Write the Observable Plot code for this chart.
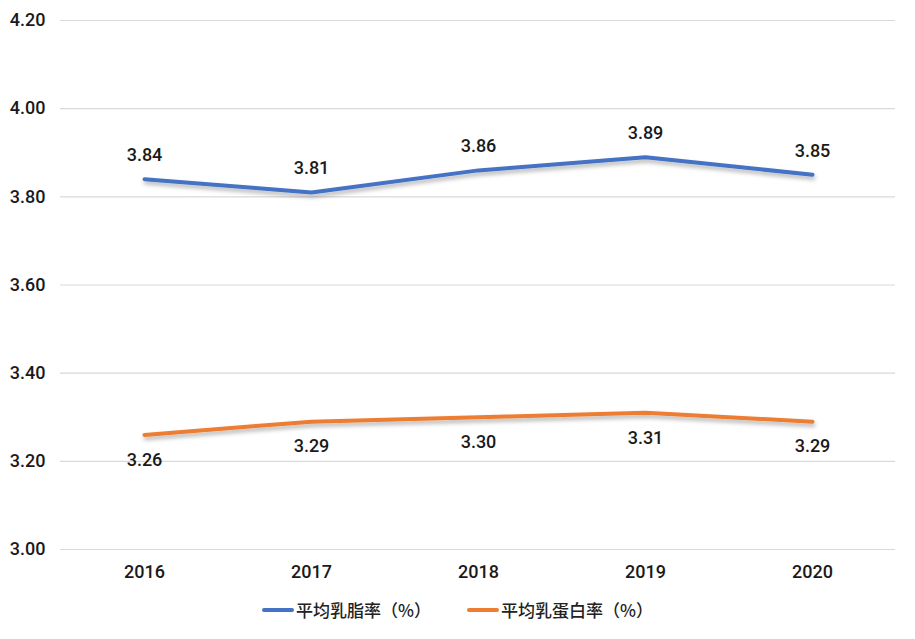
<!DOCTYPE html>
<html><head><meta charset="utf-8">
<script src="https://cdn.jsdelivr.net/npm/d3@7"></script>
<script src="https://cdn.jsdelivr.net/npm/@observablehq/plot@0.6"></script>
<style>
body{margin:0;background:#fff;font-family:Roboto,"Liberation Sans",Arial,sans-serif;}
#legend{height:49px;display:flex;justify-content:center;align-items:flex-start;font-family:"Noto Sans CJK SC",sans-serif;font-size:17px;color:#222;font-weight:500;}
.item{display:flex;align-items:center;margin-top:7px;}
.sw{width:32px;height:4px;border-radius:2px;margin-right:2px;}
</style></head><body>
<div id="chart"></div>
<div id="legend"></div>
<script>
const years = ["2016","2017","2018","2019","2020"];
const fat = [3.84,3.81,3.86,3.89,3.85];
const protein = [3.26,3.29,3.30,3.31,3.29];
const seriesNames = ["平均乳脂率（%）","平均乳蛋白率（%）"];
const colors = ["#4472C4","#ED7D31"];
const yTicks = [3.0,3.2,3.4,3.6,3.8,4.0,4.2];

const data = [];
years.forEach((y,i)=>{data.push({year:y,value:fat[i],s:seriesNames[0]});data.push({year:y,value:protein[i],s:seriesNames[1]});});
const fatData = data.filter(d=>d.s===seriesNames[0]);
const protData = data.filter(d=>d.s===seriesNames[1]);

const plot = Plot.plot({
  width:915,height:590,
  marginLeft:60,marginRight:20,marginTop:20,marginBottom:41,
  style:{fontFamily:"Roboto, Liberation Sans, Arial, sans-serif",fontSize:"18px",color:"#1a1a1a",background:"#fff"},
  x:{type:"point",domain:years,padding:0.5,label:null},
  y:{domain:[3.0,4.2],label:null},
  color:{domain:seriesNames,range:colors},
  marks:[
    Plot.gridY(yTicks,{stroke:"#d9d9d9",strokeOpacity:1,strokeWidth:1.2}),
    Plot.axisY(yTicks,{tickSize:0,tickPadding:15,tickFormat:d=>d.toFixed(2),fontSize:18,fill:"#1a1a1a",label:null}),
    Plot.axisX({tickSize:0,tickPadding:16,fontSize:18,fill:"#1a1a1a",label:null}),
    Plot.line(data,{x:"year",y:"value",z:"s",stroke:"s",strokeWidth:4,strokeLinecap:"round",strokeLinejoin:"round",className:"series"}),
    Plot.text(fatData,{x:"year",y:"value",text:d=>d.value.toFixed(2),dy:-24,fontSize:18,fill:"#1a1a1a"}),
    Plot.text(protData,{x:"year",y:"value",text:d=>d.value.toFixed(2),dy:25,fontSize:18,fill:"#1a1a1a"})
  ]
});
document.getElementById("chart").appendChild(plot);
const svg = d3.select(plot);
const defs = svg.insert("defs",":first-child");
const f = defs.append("filter").attr("id","shadow").attr("x","-5%").attr("y","-50%").attr("width","110%").attr("height","200%");
f.append("feDropShadow").attr("dx",1).attr("dy",3).attr("stdDeviation",2).attr("flood-color","#000").attr("flood-opacity",0.3);
svg.selectAll("g.series").attr("filter","url(#shadow)");
svg.selectAll("text").attr("font-weight",500);

const lg = d3.select("#legend");
seriesNames.forEach((n,i)=>{
  const it = lg.append("div").attr("class","item").style("margin-right", i===0?"36px":"0");
  it.append("div").attr("class","sw").style("background",colors[i]);
  it.append("span").text(n);
});
</script></body></html>
